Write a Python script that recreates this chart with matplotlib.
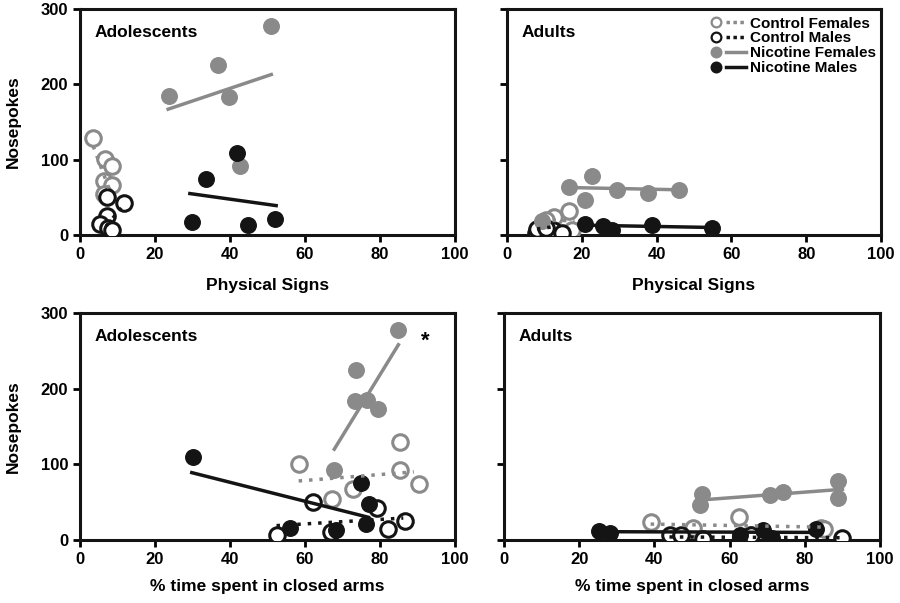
import matplotlib
matplotlib.use("Agg")
import matplotlib.pyplot as plt
from matplotlib.lines import Line2D
from matplotlib.legend_handler import HandlerTuple

plt.rcParams['font.family'] = ['Liberation Sans', 'DejaVu Sans']
plt.rcParams['font.weight'] = 'bold'

GREY = '#8a8a8a'
BLACK = '#141414'

# ---- top left: adolescents, physical signs ----
tl_cf_x = [3.4, 6.7, 8.5, 6.4, 8.6, 6.4]
tl_cf_y = [129, 101, 92, 72, 67, 55]
tl_cm_x = [7.3, 11.6, 7.3, 5.2, 7.4, 8.5]
tl_cm_y = [50, 43, 25, 14, 9, 6]
tl_nf_x = [23.6, 36.8, 39.7, 50.8, 42.7]
tl_nf_y = [185, 225, 183, 277, 91]
tl_nm_x = [29.8, 33.7, 41.8, 44.9, 52.0]
tl_nm_y = [17, 74, 109, 13, 21]
tl_cf_line = ([3.5, 8.0], [118, 58])
tl_cm_line = ([7.0, 11.0], [12, 36])
tl_nf_line = ([23.5, 51.0], [167, 213])
tl_nm_line = ([29.3, 52.3], [55, 39])

# ---- top right: adults, physical signs ----
tr_cf_x = [12.6, 16.6, 17.5, 10.5]
tr_cf_y = [24, 32, 7, 20]
tr_cm_x = [7.8, 8.0, 12.4, 14.6, 10.5]
tr_cm_y = [3, 8, 6, 3, 9]
tr_nf_x = [9.3, 16.6, 22.7, 20.8, 29.5, 37.7, 46.1]
tr_nf_y = [18, 64, 78, 46, 60, 56, 60]
tr_nm_x = [20.8, 25.7, 28.2, 38.7, 54.7]
tr_nm_y = [15, 12, 6, 13, 9]
tr_cf_line = ([12.0, 18.0], [20, 20])
tr_cm_line = ([8.0, 14.0], [8, 12])
tr_nf_line = ([16.6, 46.1], [63, 60])
tr_nm_line = ([20.8, 54.7], [13, 10])

# ---- bottom left: adolescents, % time in closed arms ----
bl_cf_x = [85.2, 58.3, 85.2, 90.4, 72.9, 67.3]
bl_cf_y = [129, 100, 92, 74, 67, 54]
bl_cm_x = [62.2, 79.1, 86.7, 82.2, 52.6, 67.0]
bl_cm_y = [50, 42, 25, 14, 6, 10]
bl_nf_x = [84.9, 73.5, 73.3, 76.4, 79.5, 67.8]
bl_nf_y = [277, 225, 184, 185, 173, 92]
bl_nm_x = [30.0, 74.9, 77.1, 76.3, 56.0, 68.2]
bl_nm_y = [110, 75, 47, 21, 16, 13]
bl_cf_line = ([58.3, 89.0], [78, 90])
bl_cm_line = ([52.4, 86.2], [19, 29])
bl_nf_line = ([67.8, 84.9], [120, 258])
bl_nm_line = ([29.8, 76.9], [89, 30])

# ---- bottom right: adults, % time in closed arms ----
br_cf_x = [39.0, 50.3, 62.4, 65.4, 84.3, 85.0]
br_cf_y = [24, 16, 31, 7, 16, 14]
br_cm_x = [44.1, 47.1, 53.0, 65.6, 90.0]
br_cm_y = [7, 7, 1, 7, 2]
br_nf_x = [52.7, 52.1, 70.7, 74.3, 88.8, 88.8]
br_nf_y = [61, 46, 60, 64, 78, 56]
br_nm_x = [25.3, 28.1, 62.7, 69.0, 71.4, 83.1]
br_nm_y = [12, 9, 6, 13, 3, 14]
br_cf_line = ([39.0, 85.0], [21, 17])
br_cm_line = ([44.0, 90.0], [4, 3])
br_nf_line = ([52.7, 90.0], [53, 67])
br_nm_line = ([25.0, 83.0], [11, 10])

x_ticks = [0, 20, 40, 60, 80, 100]
y_ticks = [0, 100, 200, 300]

fig = plt.figure(figsize=(9, 6.03), dpi=100)
ax_tl = fig.add_axes([0.0889, 0.6103, 0.4167, 0.3748])
ax_tr = fig.add_axes([0.5633, 0.6103, 0.4156, 0.3748])
ax_bl = fig.add_axes([0.0889, 0.1045, 0.4167, 0.3765])
ax_br = fig.add_axes([0.5600, 0.1045, 0.4178, 0.3765])


def draw_panel(ax, cf, cm, nf, nm, lines, title, xlabel, ylabel_on, xpad):
    ms = 125
    ax.scatter(cf[0], cf[1], s=ms, facecolors='white', edgecolors=GREY, linewidths=2.2, zorder=3)
    ax.scatter(cm[0], cm[1], s=ms, facecolors='white', edgecolors=BLACK, linewidths=2.2, zorder=3)
    ax.scatter(nf[0], nf[1], s=ms, color=GREY, zorder=4)
    ax.scatter(nm[0], nm[1], s=ms, color=BLACK, zorder=4)
    ax.plot(lines[0][0], lines[0][1], color=GREY, lw=2.5, ls=(0, (1, 2)), zorder=5)
    ax.plot(lines[1][0], lines[1][1], color=BLACK, lw=2.5, ls=(0, (1, 2)), zorder=5)
    ax.plot(lines[2][0], lines[2][1], color=GREY, lw=2.5, zorder=5)
    ax.plot(lines[3][0], lines[3][1], color=BLACK, lw=2.5, zorder=5)

    ax.set_xlim(0, 100)
    ax.set_ylim(0, 300)
    ax.set_xticks(x_ticks)
    ax.set_yticks(y_ticks)
    for sp in ax.spines.values():
        sp.set_linewidth(2.2)
        sp.set_color(BLACK)
    ax.tick_params(direction='out', width=2, length=5, labelsize=12)
    if not ylabel_on:
        ax.set_yticklabels([])
    else:
        ax.set_ylabel('Nosepokes', fontsize=12.5, fontweight='bold', labelpad=14)
    ax.set_xlabel(xlabel, fontsize=12.5, fontweight='bold', labelpad=xpad)
    ax.text(0.04, 0.93, title, transform=ax.transAxes, fontsize=12.5,
            fontweight='bold', va='top', ha='left')


draw_panel(ax_tl, (tl_cf_x, tl_cf_y), (tl_cm_x, tl_cm_y), (tl_nf_x, tl_nf_y), (tl_nm_x, tl_nm_y),
           [tl_cf_line, tl_cm_line, tl_nf_line, tl_nm_line], 'Adolescents', 'Physical Signs', True, 12)
draw_panel(ax_tr, (tr_cf_x, tr_cf_y), (tr_cm_x, tr_cm_y), (tr_nf_x, tr_nf_y), (tr_nm_x, tr_nm_y),
           [tr_cf_line, tr_cm_line, tr_nf_line, tr_nm_line], 'Adults', 'Physical Signs', False, 12)
draw_panel(ax_bl, (bl_cf_x, bl_cf_y), (bl_cm_x, bl_cm_y), (bl_nf_x, bl_nf_y), (bl_nm_x, bl_nm_y),
           [bl_cf_line, bl_cm_line, bl_nf_line, bl_nm_line], 'Adolescents',
           '% time spent in closed arms', True, 9)
draw_panel(ax_br, (br_cf_x, br_cf_y), (br_cm_x, br_cm_y), (br_nf_x, br_nf_y), (br_nm_x, br_nm_y),
           [br_cf_line, br_cm_line, br_nf_line, br_nm_line], 'Adults',
           '% time spent in closed arms', False, 9)

ax_bl.text(92, 262, '*', fontsize=16, fontweight='bold', ha='center', va='center')


# legend: marker followed by line sample
def handle(face, edge, ls):
    mk = Line2D([], [], marker='o', ls='none', markersize=7, markerfacecolor=face,
                markeredgecolor=edge, markeredgewidth=1.6)
    ln = Line2D([], [], color=edge, lw=2.5, ls=ls)
    return (mk, ln)


handles = [handle('white', GREY, (0, (1, 1))), handle('white', BLACK, (0, (1, 1))),
           handle(GREY, GREY, '-'), handle(BLACK, BLACK, '-')]
labels = ['Control Females', 'Control Males', 'Nicotine Females', 'Nicotine Males']
ax_tr.legend(handles, labels, handler_map={tuple: HandlerTuple(ndivide=2, pad=0)},
             loc='upper right', bbox_to_anchor=(1.02, 1.02), frameon=False,
             handlelength=2.6, handletextpad=0.3, labelspacing=0.05, borderpad=0.3,
             prop={'weight': 'bold', 'size': 11})

fig.savefig('out.png', dpi=100)
